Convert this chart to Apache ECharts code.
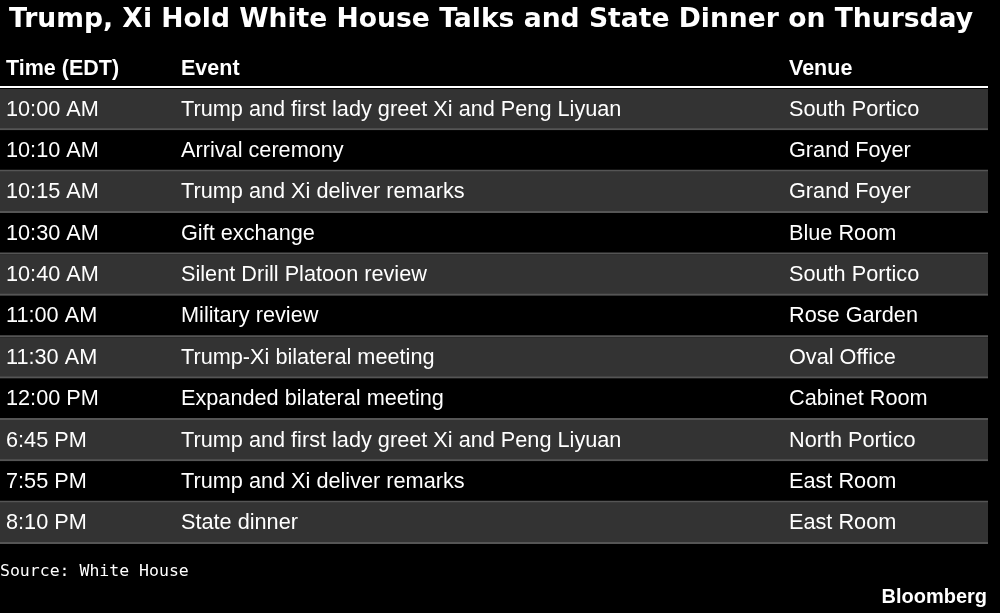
<!DOCTYPE html><html><head><meta charset="utf-8"><script src="https://cdn.jsdelivr.net/npm/echarts@6/dist/echarts.min.js"></script>
<style>html,body{margin:0;background:#000}#c{width:1000px;height:613px}</style></head><body><div id="c"></div><script>
const headers=['Time (EDT)','Event','Venue'];
const times=['10:00 AM','10:10 AM','10:15 AM','10:30 AM','10:40 AM','11:00 AM','11:30 AM','12:00 PM','6:45 PM','7:55 PM','8:10 PM'];
const events=['Trump and first lady greet Xi and Peng Liyuan','Arrival ceremony','Trump and Xi deliver remarks','Gift exchange','Silent Drill Platoon review','Military review','Trump-Xi bilateral meeting','Expanded bilateral meeting','Trump and first lady greet Xi and Peng Liyuan','Trump and Xi deliver remarks','State dinner'];
const venues=['South Portico','Grand Foyer','Grand Foyer','Blue Room','South Portico','Rose Garden','Oval Office','Cabinet Room','North Portico','East Room','East Room'];
const colX=[6,181,789];
const font='"Liberation Sans", Arial, sans-serif';
const chart=echarts.init(document.getElementById('c'));
chart.setOption({
 backgroundColor:'#000',animation:false,
 title:{text:'Trump, Xi Hold White House Talks and State Dinner on Thursday',left:4,top:2,textStyle:{color:'#fff',fontFamily:'"DejaVu Sans", sans-serif',fontWeight:'bold',fontSize:26.6}},
 grid:{left:0,right:12,top:89,height:455},
 xAxis:{type:'value',min:0,max:988,show:false},
 yAxis:{type:'category',data:times,inverse:true,show:false},
 graphic:[
  ...headers.map((h,i)=>({type:'text',left:colX[i],top:58,style:{text:h,fill:'#fff',font:'bold 21.5px '+font}})),
  {type:'rect',shape:{x:0,y:86,width:988,height:2},style:{fill:'#fff'}},
  {type:'text',left:0,top:563,style:{text:'Source: White House',fill:'#fff',font:'16.5px "DejaVu Sans Mono", monospace'}},
  {type:'text',right:13,top:587,style:{text:'Bloomberg',fill:'#fff',font:'bold 20px '+font}}
 ],
 series:[{type:'custom',data:times.map((t,i)=>[i]),
  renderItem(params,api){
   const i=api.value(0);
   const c=api.coord([0,i]);const h=api.size([0,1])[1];
   const top=c[1]-h/2;const w=params.coordSys.width;
   return {type:'group',children:[
    {type:'rect',shape:{x:0,y:top,width:w,height:h},style:{fill:i%2===0?'#333333':'#000'}},
    {type:'rect',shape:{x:0,y:top+h-2,width:w,height:2},style:{fill:'#555'}},
    ...[times[i],events[i],venues[i]].map((s,k)=>({type:'text',x:colX[k],y:c[1],style:{text:s,fill:'#fff',font:'21.7px '+font,verticalAlign:'middle'}}))
   ]};
  }}]
});
</script></body></html>
